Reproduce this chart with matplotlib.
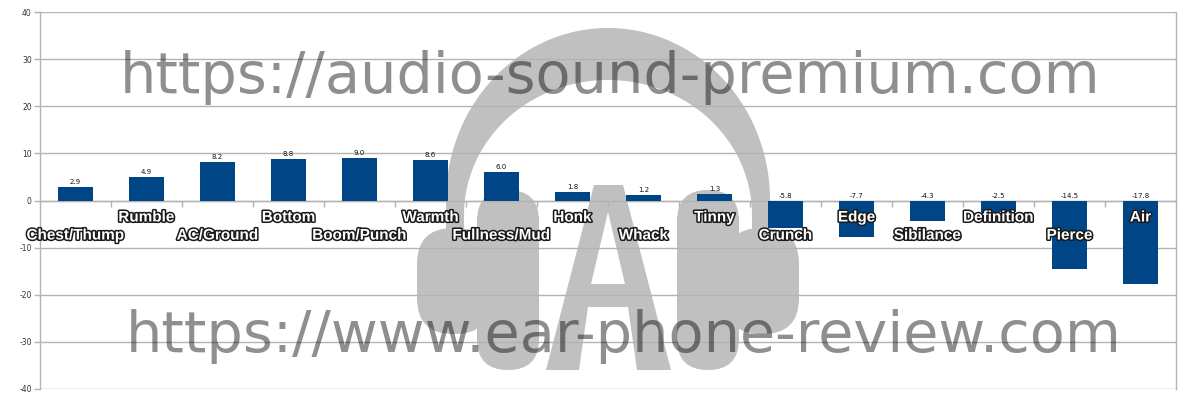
"""Frequency-response deviation chart with watermark, as in the review image."""

import matplotlib.pyplot as plt
import matplotlib.patheffects as pe
import numpy as np
from matplotlib.patches import FancyBboxPatch, PathPatch, Polygon
from matplotlib.path import Path
from matplotlib.transforms import Affine2D

categories = [
    "Chest/Thump", "Rumble", "AC/Ground", "Bottom", "Boom/Punch", "Warmth",
    "Fullness/Mud", "Honk", "Whack", "Tinny", "Crunch", "Edge", "Sibilance",
    "Definition", "Pierce", "Air",
]
values = [2.9, 4.9, 8.2, 8.8, 9.0, 8.6, 6.0, 1.8, 1.2, 1.3,
          -5.8, -7.7, -4.3, -2.5, -14.5, -17.8]
y_ticks = [-40, -30, -20, -10, 0, 10, 20, 30, 40]
watermark_top = "https://audio-sound-premium.com"
watermark_bottom = "https://www.ear-phone-review.com"

BAR_COLOR = "#004586"
GRID_COLOR = "#b3b3b3"
LOGO_COLOR = "#c0c0c0"
W, H = 1200, 400

plt.rcParams["axes.unicode_minus"] = False

fig = plt.figure(figsize=(12, 4), dpi=100)
ax = fig.add_axes([40 / W, 1 - 389 / H, 1136 / W, 377 / H])

x = np.arange(len(categories))
ax.bar(x, values, width=0.5, color=BAR_COLOR, zorder=3)
ax.set_xlim(-0.5, len(categories) - 0.5)
ax.set_ylim(y_ticks[0], y_ticks[-1])
ax.set_yticks(y_ticks)
ax.tick_params(axis="y", labelsize=5.5, labelcolor="#333333", color=GRID_COLOR,
               length=4, width=1, pad=2)
ax.yaxis.grid(True, color=GRID_COLOR, linewidth=1, zorder=0.5)
ax.set_axisbelow(True)

# category dividers as small ticks on the zero line
ax.spines["bottom"].set_position(("data", 0))
ax.set_xticks([])
ax.set_xticks(x[:-1] + 0.5, minor=True)
ax.tick_params(axis="x", which="minor", color=GRID_COLOR, length=4, width=1)
for side in ("left", "right", "bottom", "top"):
    ax.spines[side].set_color(GRID_COLOR)
    ax.spines[side].set_linewidth(1)
ax.spines["top"].set_visible(False)

# value labels
for xi, v in zip(x, values):
    ax.annotate(f"{v:.1f}", xy=(xi, max(v, 0)), xytext=(0, 2),
                textcoords="offset pixels", ha="center", va="bottom",
                fontsize=5, color="#111111", zorder=6)

# category labels, alternating rows
outline = [pe.withStroke(linewidth=2.2, foreground="#1a1a1a")]
for i, (xi, name) in enumerate(zip(x, categories)):
    dy = -21 if i % 2 else -39
    ax.annotate(name, xy=(xi, 0), xytext=(0, dy), textcoords="offset pixels",
                ha="center", va="baseline", fontsize=11, fontweight="bold",
                family="Liberation Sans", color="white", path_effects=outline,
                zorder=7, annotation_clip=False)

# headphone logo, drawn in pixel coordinates (y down)
px = Affine2D().scale(1 / W, -1 / H).translate(0, 1) + fig.transFigure
cx = 608
t = np.linspace(0, np.pi, 120)
outer = np.column_stack([cx + 162 * np.cos(t), 200 - 172 * np.sin(t)])
inner = np.column_stack([cx + 144 * np.cos(t[::-1]), 215 - 135 * np.sin(t[::-1])])
band = np.vstack([[cx + 162, 250], outer, [cx - 162, 250], [cx - 144, 250],
                  inner, [cx + 144, 250]])
ax.add_patch(Polygon(band, closed=True, facecolor=LOGO_COLOR, edgecolor="none",
                     transform=px, zorder=0.4))
for sign in (-1, 1):
    pad_x = cx + sign * 100
    ax.add_patch(FancyBboxPatch((pad_x - 31, 190), 62, 180,
                                boxstyle="round,pad=0,rounding_size=31",
                                facecolor=LOGO_COLOR, edgecolor="none",
                                transform=px, zorder=0.4))
    out_x = cx + sign * 154
    ax.add_patch(FancyBboxPatch((out_x - 37, 228), 74, 106,
                                boxstyle="round,pad=0,rounding_size=36",
                                facecolor=LOGO_COLOR, edgecolor="none",
                                transform=px, zorder=0.4))

a_outer = [(546, 370), (594, 185), (623, 185), (671, 370), (637, 370),
           (628, 307), (588, 307), (579, 370)]
a_hole = [(591, 284), (625, 284), (608, 212)]
verts = a_outer + [a_outer[0]] + a_hole + [a_hole[0]]
codes = ([Path.MOVETO] + [Path.LINETO] * (len(a_outer) - 1) + [Path.CLOSEPOLY]
         + [Path.MOVETO] + [Path.LINETO] * (len(a_hole) - 1) + [Path.CLOSEPOLY])
ax.add_patch(PathPatch(Path(verts, codes), facecolor=LOGO_COLOR,
                       edgecolor="none", transform=px, zorder=0.4))

# url watermarks
ax.text(610, 93, watermark_top, transform=px, ha="center", va="baseline",
        fontsize=41.3, family="DejaVu Sans", color="black", alpha=0.44, zorder=5)
ax.text(624, 352, watermark_bottom, transform=px, ha="center", va="baseline",
        fontsize=41.3, family="DejaVu Sans", color="black", alpha=0.44, zorder=5)

fig.savefig("out.png", dpi=100)
